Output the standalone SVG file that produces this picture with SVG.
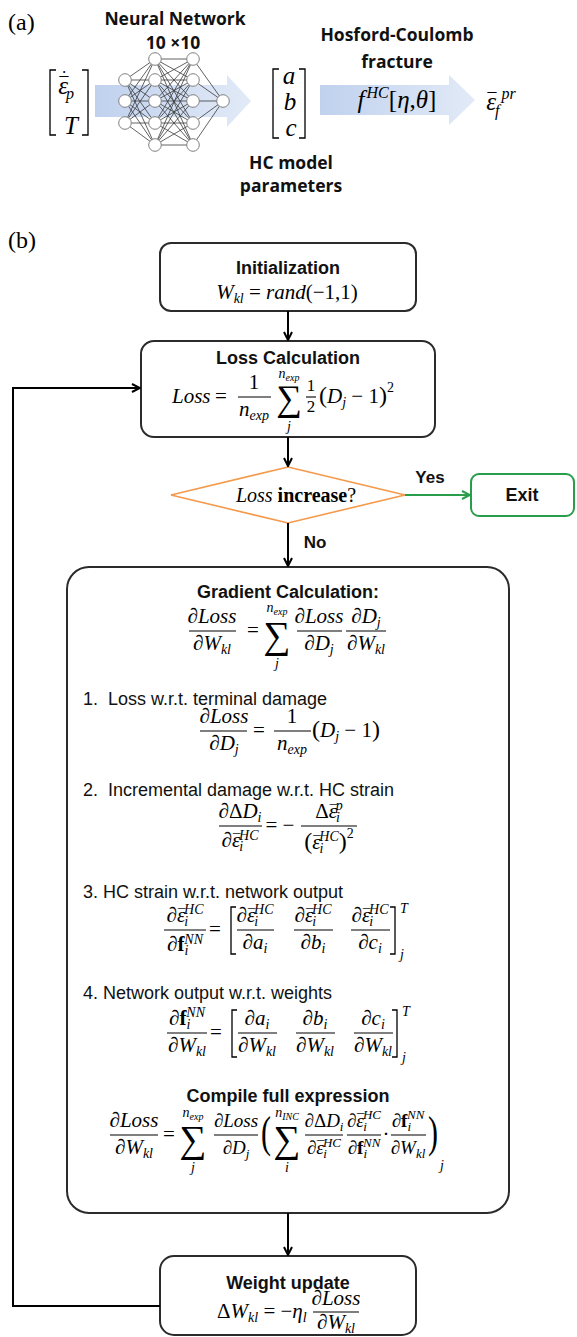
<svg xmlns="http://www.w3.org/2000/svg" width="577" height="1337" viewBox="0 0 577 1337">
<defs>
<style>
text{fill:#000}
.lab{font-family:"Liberation Serif",serif;font-size:24px}
.hd{font-family:"Open Sans","Liberation Sans",sans-serif;font-weight:700;font-size:17.5px;text-anchor:middle;fill:#111}
.t{font-family:"Liberation Sans",Arial,sans-serif;font-weight:700;font-size:18px;text-anchor:middle;fill:#111}
.r{font-family:"Liberation Sans",Arial,sans-serif;font-size:18px;fill:#111}
.m{font-family:"Liberation Serif",serif;font-style:italic;font-size:21px}
.m19{font-size:19px}
.big{font-size:25px}
.bs{font-size:16px}
.c{text-anchor:middle}
.u{font-style:normal}
.s{font-size:14px}
.s13{font-size:13px}
.ss{font-size:10px}
.mb{font-size:15px}
.mb2{font-size:18px}
.pr{font-size:24px;font-style:normal}
.bf{font-weight:bold;font-style:normal}
.sig{font-family:"Liberation Serif",serif;font-size:38px;text-anchor:middle}
.par{font-family:"Liberation Serif",serif;font-size:30px}
.box{fill:#fff;stroke:#2b2b2b;stroke-width:2}
.fl{stroke:#000;stroke-width:1.1}
.br{fill:none;stroke:#000;stroke-width:1.3}
.con{fill:none;stroke:#000;stroke-width:2}
.nnl{fill:none;stroke:#3a3a3a;stroke-width:0.8}
.nd{fill:#fff;stroke:#808080;stroke-width:1}
</style>
<marker id="ah" viewBox="0 0 10 10" refX="9" refY="5" markerWidth="10" markerHeight="10" markerUnits="userSpaceOnUse" orient="auto"><path d="M1,1 L9,5 L1,9" fill="none" stroke="#000" stroke-width="2"/></marker>
<marker id="ahg" viewBox="0 0 10 10" refX="9" refY="5" markerWidth="10" markerHeight="10" markerUnits="userSpaceOnUse" orient="auto"><path d="M1,1 L9,5 L1,9" fill="none" stroke="#2a9d4a" stroke-width="2"/></marker>
<linearGradient id="bl" x1="0" x2="1" y1="0" y2="0"><stop offset="0" stop-color="#c0d1ee"/><stop offset="1" stop-color="#e2eaf7"/></linearGradient>
</defs>

<!-- panel (a) -->
<text class="lab" x="8" y="30">(a)</text>
<g id="nn-arrow"><path d="M95,85 H227 V75 L251,101 L227,127 V117 H95 Z" fill="url(#bl)"/></g>
<g id="input-vector">
<polyline class="br" points="56,70 50,70 50,135 56,135"/>
<polyline class="br" points="82,70 88,70 88,135 82,135"/>
<text class="m big" x="58" y="94">ε<tspan class="mb2" dx="-10" dy="-4">¯</tspan><tspan class="mb2" dx="-7" dy="-6">˙</tspan><tspan class="bs" dy="15">p</tspan></text>
<text class="m big c" x="71" y="134">T</text>
</g>
<g id="neural-network">
<text class="hd" x="175" y="25">Neural Network</text>
<text class="hd" x="173" y="49">10 ×10</text>
<path class="nnl" d="M125 80L155 59M125 80L155 80M125 80L155 101M125 80L155 123M125 80L155 145M125 101L155 59M125 101L155 80M125 101L155 101M125 101L155 123M125 101L155 145M125 123L155 59M125 123L155 80M125 123L155 101M125 123L155 123M125 123L155 145M155 59L193 59M155 59L193 80M155 59L193 101M155 59L193 123M155 59L193 145M155 80L193 59M155 80L193 80M155 80L193 101M155 80L193 123M155 80L193 145M155 101L193 59M155 101L193 80M155 101L193 101M155 101L193 123M155 101L193 145M155 123L193 59M155 123L193 80M155 123L193 101M155 123L193 123M155 123L193 145M155 145L193 59M155 145L193 80M155 145L193 101M155 145L193 123M155 145L193 145M193 59L223 101M193 80L223 101M193 101L223 101M193 123L223 101M193 145L223 101"/>
<circle class="nd" cx="125" cy="80" r="6.3"/><circle class="nd" cx="125" cy="101" r="6.3"/><circle class="nd" cx="125" cy="123" r="6.3"/>
<circle class="nd" cx="155" cy="59" r="6.3"/><circle class="nd" cx="155" cy="80" r="6.3"/><circle class="nd" cx="155" cy="101" r="6.3"/><circle class="nd" cx="155" cy="123" r="6.3"/><circle class="nd" cx="155" cy="145" r="6.3"/>
<circle class="nd" cx="193" cy="59" r="6.3"/><circle class="nd" cx="193" cy="80" r="6.3"/><circle class="nd" cx="193" cy="101" r="6.3"/><circle class="nd" cx="193" cy="123" r="6.3"/><circle class="nd" cx="193" cy="145" r="6.3"/>
<circle class="nd" cx="223" cy="101" r="6.3"/>
</g>
<g id="hc-params">
<polyline class="br" points="279,69 273,69 273,138 279,138"/>
<polyline class="br" points="299,69 305,69 305,138 299,138"/>
<text class="m big c" x="289" y="84">a</text>
<text class="m big c" x="290" y="110">b</text>
<text class="m big c" x="291" y="136">c</text>
<text class="hd" x="291" y="169">HC model</text>
<text class="hd" x="291" y="192">parameters</text>
</g>
<g id="hc-fracture">
<text class="hd" x="397" y="41">Hosford-Coulomb</text>
<text class="hd" x="397" y="68">fracture</text>
<path d="M320,85 H449 V75 L475,100 L449,125 V115 H320 Z" fill="url(#bl)"/>
<text class="m big c" x="397" y="108">f<tspan class="bs" dx="2" dy="-10">HC</tspan><tspan class="u" dy="10">[</tspan>η<tspan class="u">,</tspan>θ<tspan class="u">]</tspan></text>
</g>
<g id="output-strain">
<text class="m big" x="486" y="110">ε<tspan class="mb2" dx="-10" dy="-4">¯</tspan><tspan class="bs" dy="10">f</tspan><tspan class="bs" dx="2" dy="-17">pr</tspan></text>
</g>

<!-- panel (b) -->
<text class="lab" x="8" y="248">(b)</text>

<g id="init">
<rect class="box" x="160" y="243" width="256" height="68" rx="11"/>
<text class="t" x="288" y="274">Initialization</text>
<text class="m c" x="287" y="299">W<tspan class="s" dy="4">kl</tspan><tspan class="u" dy="-4"> = </tspan>rand<tspan class="u">(−1,1)</tspan></text>
</g>

<g id="loss">
<rect class="box" x="141" y="341" width="294" height="96" rx="13"/>
<text class="t" x="288" y="364">Loss Calculation</text>
<text class="m" x="172" y="403">Loss</text>
<text class="m c u" x="221" y="403">=</text>
<text class="m c u" x="254" y="389">1</text>
<line class="fl" x1="238" y1="397" x2="271" y2="397"/>
<text class="m c" x="254" y="416">n<tspan class="s" dy="4">exp</tspan></text>
<text class="sig" x="289" y="410" style="font-size:36px">∑</text>
<text class="m c s" x="289" y="378">n<tspan class="ss" dy="3">exp</tspan></text>
<text class="m c s" x="289" y="431">j</text>
<text class="m c u" x="311" y="391" style="font-size:17px">1</text>
<line class="fl" x1="306" y1="397" x2="316" y2="397"/>
<text class="m c u" x="311" y="412" style="font-size:17px">2</text>
<text class="m" x="319" y="403"><tspan class="pr">(</tspan>D<tspan class="s" dy="4">j</tspan><tspan class="u" dy="-4"> − 1</tspan><tspan class="pr">)</tspan><tspan class="s u" dy="-11">2</tspan></text>
</g>

<g id="decision">
<polygon points="288,467 405,495 288,523 171,495" fill="#fff" stroke="#f5994a" stroke-width="1.6"/>
<text class="m c" x="296" y="502" style="font-size:20px">Loss<tspan class="bf"> increase</tspan><tspan class="u">?</tspan></text>
</g>

<g id="exit">
<rect x="471" y="474" width="103" height="42" rx="8" fill="#fff" stroke="#2a9d4a" stroke-width="2"/>
<text class="t" x="522" y="501">Exit</text>
</g>

<g id="gradient">
<rect class="box" x="67" y="567" width="442" height="646" rx="22"/>
<text class="t" x="288" y="598">Gradient Calculation:</text>
<text class="m c" x="212" y="623">∂Loss</text>
<line class="fl" x1="189" y1="631" x2="236" y2="631"/>
<text class="m c" x="212" y="650">∂W<tspan class="s" dy="4">kl</tspan></text>
<text class="m c u" x="253" y="637">=</text>
<text class="sig" x="277" y="648">∑</text>
<text class="m c s" x="277" y="612">n<tspan class="ss" dy="3">exp</tspan></text>
<text class="m c s" x="277" y="668">j</text>
<text class="m c" x="319" y="623">∂Loss</text>
<line class="fl" x1="297" y1="631" x2="342" y2="631"/>
<text class="m c" x="319" y="650">∂D<tspan class="s" dy="4">j</tspan></text>
<text class="m c" x="366" y="623">∂D<tspan class="s" dy="4">j</tspan></text>
<line class="fl" x1="346" y1="631" x2="386" y2="631"/>
<text class="m c" x="366" y="650">∂W<tspan class="s" dy="4">kl</tspan></text>

<text class="r" x="83" y="705" xml:space="preserve">1.  Loss w.r.t. terminal damage</text>
<text class="m c" x="224" y="723">∂Loss</text>
<line class="fl" x1="200" y1="731" x2="247" y2="731"/>
<text class="m c" x="224" y="750">∂D<tspan class="s" dy="4">j</tspan></text>
<text class="m c u" x="259" y="737">=</text>
<text class="m c u" x="292" y="723">1</text>
<line class="fl" x1="274" y1="731" x2="311" y2="731"/>
<text class="m c" x="292" y="750">n<tspan class="s" dy="4">exp</tspan></text>
<text class="m" x="312" y="737"><tspan class="pr">(</tspan>D<tspan class="s" dy="4">j</tspan><tspan class="u" dy="-4"> − 1</tspan><tspan class="pr">)</tspan></text>

<text class="r" x="83" y="796" xml:space="preserve">2.  Incremental damage w.r.t. HC strain</text>
<text class="m c" x="240" y="818">∂<tspan class="u">Δ</tspan>D<tspan class="s" dy="4">i</tspan></text>
<line class="fl" x1="219" y1="826" x2="262" y2="826"/>
<text class="m c" x="240" y="847">∂ε<tspan class="mb" dx="-8.5" dy="-3">¯</tspan><tspan class="s" dy="7">i</tspan><tspan class="s" dx="-4" dy="-11">HC</tspan></text>
<text class="m c u" x="280" y="832">= −</text>
<text class="m c" x="329" y="818"><tspan class="u">Δ</tspan>ε<tspan class="mb" dx="-8.5" dy="-3">¯</tspan><tspan class="s" dy="7">i</tspan><tspan class="s" dx="-4" dy="-12">p</tspan></text>
<line class="fl" x1="301" y1="826" x2="357" y2="826"/>
<text class="m c" x="329" y="849"><tspan class="pr">(</tspan>ε<tspan class="mb" dx="-8.5" dy="-3">¯</tspan><tspan class="s" dy="7">i</tspan><tspan class="s" dx="-4" dy="-12">HC</tspan><tspan class="pr" dy="8">)</tspan><tspan class="s u" dy="-11">2</tspan></text>

<text class="r" x="83" y="898">3. HC strain w.r.t. network output</text>
<text class="m c" x="185" y="922">∂ε<tspan class="mb" dx="-8.5" dy="-3">¯</tspan><tspan class="s" dy="7">i</tspan><tspan class="s" dx="-4" dy="-12">HC</tspan></text>
<line class="fl" x1="164" y1="930" x2="206" y2="930"/>
<text class="m c" x="185" y="951">∂<tspan class="bf">f</tspan><tspan class="s" dy="4">i</tspan><tspan class="s" dx="-4" dy="-11">NN</tspan></text>
<text class="m c u" x="215" y="936">=</text>
<polyline class="br" points="236,907 231,907 231,954 236,954"/>
<text class="m c" x="255" y="922">∂ε<tspan class="mb" dx="-8.5" dy="-3">¯</tspan><tspan class="s" dy="7">i</tspan><tspan class="s" dx="-4" dy="-12">HC</tspan></text>
<line class="fl" x1="237" y1="930" x2="274" y2="930"/>
<text class="m c" x="255" y="949">∂a<tspan class="s" dy="4">i</tspan></text>
<text class="m c" x="313" y="922">∂ε<tspan class="mb" dx="-8.5" dy="-3">¯</tspan><tspan class="s" dy="7">i</tspan><tspan class="s" dx="-4" dy="-12">HC</tspan></text>
<line class="fl" x1="294" y1="930" x2="333" y2="930"/>
<text class="m c" x="313" y="949">∂b<tspan class="s" dy="4">i</tspan></text>
<text class="m c" x="370" y="922">∂ε<tspan class="mb" dx="-8.5" dy="-3">¯</tspan><tspan class="s" dy="7">i</tspan><tspan class="s" dx="-4" dy="-12">HC</tspan></text>
<line class="fl" x1="351" y1="930" x2="390" y2="930"/>
<text class="m c" x="370" y="949">∂c<tspan class="s" dy="4">i</tspan></text>
<polyline class="br" points="390,907 395,907 395,954 390,954"/>
<text class="m s" x="400" y="913">T</text>
<text class="m s" x="400" y="959">j</text>

<text class="r" x="83" y="999">4. Network output w.r.t. weights</text>
<text class="m c" x="187" y="1025">∂<tspan class="bf">f</tspan><tspan class="s" dy="4">i</tspan><tspan class="s" dx="-4" dy="-12">NN</tspan></text>
<line class="fl" x1="167" y1="1033" x2="207" y2="1033"/>
<text class="m c" x="187" y="1052">∂W<tspan class="s" dy="4">kl</tspan></text>
<text class="m c u" x="216" y="1039">=</text>
<polyline class="br" points="237,1010 232,1010 232,1057 237,1057"/>
<text class="m c" x="257" y="1025">∂a<tspan class="s" dy="4">i</tspan></text>
<line class="fl" x1="238" y1="1033" x2="277" y2="1033"/>
<text class="m c" x="257" y="1052">∂W<tspan class="s" dy="4">kl</tspan></text>
<text class="m c" x="315" y="1025">∂b<tspan class="s" dy="4">i</tspan></text>
<line class="fl" x1="296" y1="1033" x2="335" y2="1033"/>
<text class="m c" x="315" y="1052">∂W<tspan class="s" dy="4">kl</tspan></text>
<text class="m c" x="373" y="1025">∂c<tspan class="s" dy="4">i</tspan></text>
<line class="fl" x1="354" y1="1033" x2="393" y2="1033"/>
<text class="m c" x="373" y="1052">∂W<tspan class="s" dy="4">kl</tspan></text>
<polyline class="br" points="392,1010 397,1010 397,1057 392,1057"/>
<text class="m s" x="402" y="1016">T</text>
<text class="m s" x="402" y="1062">j</text>

<text class="t" x="288" y="1102">Compile full expression</text>
<text class="m c" x="134" y="1127">∂Loss</text>
<line class="fl" x1="110" y1="1135" x2="158" y2="1135"/>
<text class="m c" x="134" y="1154">∂W<tspan class="s" dy="4">kl</tspan></text>
<text class="m c u" x="169" y="1141">=</text>
<text class="sig" x="193" y="1152">∑</text>
<text class="m c s" x="193" y="1117">n<tspan class="ss" dy="3">exp</tspan></text>
<text class="m c s" x="193" y="1172">j</text>
<text class="m m19 c" x="236" y="1127">∂Loss</text>
<line class="fl" x1="214" y1="1135" x2="258" y2="1135"/>
<text class="m m19 c" x="236" y="1154">∂D<tspan class="s13" dy="4">j</tspan></text>
<text class="par u" transform="translate(261,1147) scale(1,1.5)">(</text>
<text class="sig" x="287" y="1152">∑</text>
<text class="m c s" x="287" y="1117">n<tspan class="ss" dy="3">INC</tspan></text>
<text class="m c s" x="287" y="1172">i</text>
<text class="m m19 c" x="324" y="1127">∂<tspan class="u">Δ</tspan>D<tspan class="s13" dy="4">i</tspan></text>
<line class="fl" x1="305" y1="1135" x2="343" y2="1135"/>
<text class="m m19 c" x="324" y="1154">∂ε<tspan class="mb" dx="-8" dy="-3">¯</tspan><tspan class="s13" dy="7">i</tspan><tspan class="s13" dx="-4" dy="-11">HC</tspan></text>
<text class="m m19 c" x="364" y="1127">∂ε<tspan class="mb" dx="-8" dy="-3">¯</tspan><tspan class="s13" dy="7">i</tspan><tspan class="s13" dx="-4" dy="-12">HC</tspan></text>
<line class="fl" x1="347" y1="1135" x2="381" y2="1135"/>
<text class="m m19 c" x="364" y="1154">∂<tspan class="bf">f</tspan><tspan class="s13" dy="4">i</tspan><tspan class="s13" dx="-4" dy="-11">NN</tspan></text>
<text class="m c u" x="386" y="1141">·</text>
<text class="m m19 c" x="408" y="1127">∂<tspan class="bf">f</tspan><tspan class="s13" dy="4">i</tspan><tspan class="s13" dx="-4" dy="-12">NN</tspan></text>
<line class="fl" x1="391" y1="1135" x2="426" y2="1135"/>
<text class="m m19 c" x="408" y="1154">∂W<tspan class="s13" dy="4">kl</tspan></text>
<text class="par u" transform="translate(428,1147) scale(1,1.5)">)</text>
<text class="m s" x="440" y="1170">j</text>
</g>

<g id="update">
<rect class="box" x="160" y="1256" width="256" height="79" rx="14"/>
<text class="t" x="288" y="1289">Weight update</text>
<text class="m" x="217" y="1318"><tspan class="u">Δ</tspan>W<tspan class="s" dy="4">kl</tspan><tspan class="u" dy="-4"> = −</tspan>η<tspan class="s" dy="4">l</tspan></text>
<text class="m c" x="336" y="1305">∂Loss</text>
<line class="fl" x1="313" y1="1312" x2="359" y2="1312"/>
<text class="m c" x="336" y="1329">∂W<tspan class="s" dy="4">kl</tspan></text>
</g>

<g id="connectors">
<path class="con" d="M288,311 V340" marker-end="url(#ah)"/>
<path class="con" d="M288,437 V466" marker-end="url(#ah)"/>
<path d="M405,495 H470" fill="none" stroke="#2a9d4a" stroke-width="2" marker-end="url(#ahg)"/>
<text class="t" x="430" y="483" style="font-size:17px">Yes</text>
<path class="con" d="M288,523 V566" marker-end="url(#ah)"/>
<text class="t" x="315" y="548" style="font-size:17px">No</text>
<path class="con" d="M288,1213 V1255" marker-end="url(#ah)"/>
<path class="con" d="M160,1306 H13 V388 H140" marker-end="url(#ah)"/>
</g>
</svg>
